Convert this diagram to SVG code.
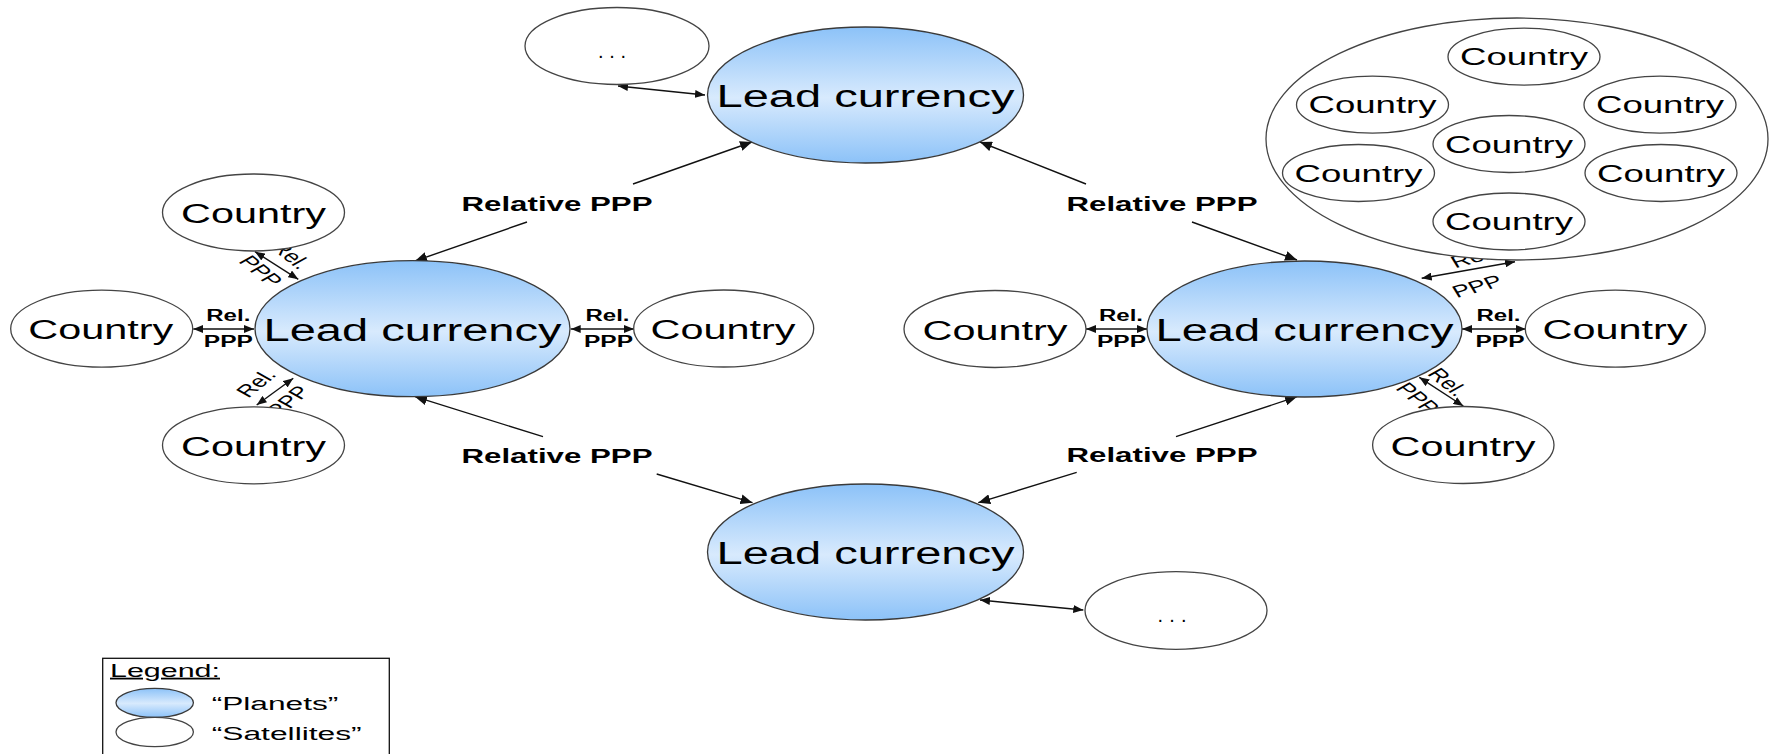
<svg xmlns="http://www.w3.org/2000/svg" width="1771" height="754" viewBox="0 0 1771 754">
<defs>
<linearGradient id="planet" x1="0" y1="0" x2="0" y2="1">
<stop offset="0" stop-color="#8cc2f8"/>
<stop offset="0.52" stop-color="#d8eafd"/>
<stop offset="1" stop-color="#8cc2f8"/>
</linearGradient>
<marker id="ah" viewBox="0 0 12 10" refX="12" refY="5" markerWidth="12" markerHeight="10" markerUnits="userSpaceOnUse" orient="auto-start-reverse"><path d="M0,0 L12,5 L0,10 z" fill="#111"/></marker>
<marker id="as" viewBox="0 0 10 8" refX="10" refY="4" markerWidth="10" markerHeight="8" markerUnits="userSpaceOnUse" orient="auto-start-reverse"><path d="M0,0 L10,4 L0,8 z" fill="#111"/></marker>
</defs>
<style>
.planet{fill:url(#planet);stroke:#3a3a3a;stroke-width:1.3}
.sat{fill:#fff;stroke:#444;stroke-width:1.3}
.t{font-family:"Liberation Sans",Arial,sans-serif;fill:#000}
.lead{font-size:31px;text-anchor:middle}
.cty{font-size:27px;text-anchor:middle}
.cty2{font-size:23px;text-anchor:middle}
.dots{font-size:20px;text-anchor:middle}
.rp{font-size:19.5px;font-weight:bold;text-anchor:middle}
.sm{font-size:16px;font-weight:bold;text-anchor:middle}
.rot{font-size:17px;text-anchor:middle}
.conn{fill:none;stroke:#111;stroke-width:1.4}
.big{marker-start:url(#ah);marker-end:url(#ah)}
.small{marker-start:url(#as);marker-end:url(#as)}
.leg{font-size:18px}
</style>
<rect width="1771" height="754" fill="#fff"/>

<g id="connectors">
<path class="conn big" d="M415,261 L527,222 M633,184 L752,142"/>
<path class="conn big" d="M1297,260 L1192,222 M1086,184 L980,142"/>
<path class="conn big" d="M415,396.7 L543,436.7 M656.7,474 L752.5,502.7"/>
<path class="conn big" d="M1297,396.7 L1176,436.7 M1076.7,472.3 L978.3,502.7"/>
<path class="conn small" d="M618,86 L705,95"/>
<path class="conn small" d="M980,600 L1083.3,610"/>
<path class="conn small" d="M193.3,329 L254,329"/>
<path class="conn small" d="M570.7,329 L634,329"/>
<path class="conn small" d="M1086,329 L1147,329"/>
<path class="conn small" d="M1462,329 L1525.7,329"/>
<path class="conn small" d="M255,251.7 L298.3,279.3"/>
<path class="conn small" d="M293.3,378.3 L256.7,405"/>
<path class="conn small" d="M1419.3,377.3 L1463.3,406"/>
<path class="conn small" d="M1421.7,278.3 L1515,261.7"/>
<text class="t rp" x="557" y="210.7" textLength="191" lengthAdjust="spacingAndGlyphs">Relative PPP</text>
<text class="t rp" x="557" y="463.3" textLength="191" lengthAdjust="spacingAndGlyphs">Relative PPP</text>
<text class="t rp" x="1162" y="210.7" textLength="191" lengthAdjust="spacingAndGlyphs">Relative PPP</text>
<text class="t rp" x="1162" y="461.5" textLength="191" lengthAdjust="spacingAndGlyphs">Relative PPP</text>
<text class="t sm" x="228.3" y="321" textLength="44" lengthAdjust="spacingAndGlyphs">Rel.</text>
<text class="t sm" x="228.3" y="346.5" textLength="49" lengthAdjust="spacingAndGlyphs">PPP</text>
<text class="t sm" x="607.5" y="321" textLength="44" lengthAdjust="spacingAndGlyphs">Rel.</text>
<text class="t sm" x="608.5" y="346.5" textLength="49" lengthAdjust="spacingAndGlyphs">PPP</text>
<text class="t sm" x="1121" y="321" textLength="44" lengthAdjust="spacingAndGlyphs">Rel.</text>
<text class="t sm" x="1121.5" y="346.5" textLength="49" lengthAdjust="spacingAndGlyphs">PPP</text>
<text class="t sm" x="1498.5" y="321" textLength="44" lengthAdjust="spacingAndGlyphs">Rel.</text>
<text class="t sm" x="1500" y="346.5" textLength="49" lengthAdjust="spacingAndGlyphs">PPP</text>
<text class="t rot" transform="translate(291,255) scale(1.5,1) rotate(50)" dy="0.35em">Rel.</text>
<text class="t rot" transform="translate(261,271) scale(1.5,1) rotate(50)" dy="0.35em">PPP</text>
<text class="t rot" transform="translate(256,383) scale(1.5,1) rotate(-50)" dy="0.35em">Rel.</text>
<text class="t rot" transform="translate(288,401) scale(1.5,1) rotate(-50)" dy="0.35em">PPP</text>
<text class="t rot" transform="translate(1448,382) scale(1.5,1) rotate(50)" dy="0.35em">Rel.</text>
<text class="t rot" transform="translate(1418,398) scale(1.5,1) rotate(50)" dy="0.35em">PPP</text>
<text class="t rot" transform="translate(1473,257) scale(1.5,1) rotate(-22)" dy="0.35em">Rel.</text>
<text class="t rot" transform="translate(1477,286) scale(1.5,1) rotate(-22)" dy="0.35em">PPP</text>
</g>

<g id="lead-top"><ellipse class="planet" cx="865.5" cy="95" rx="158" ry="68"/><text class="t lead" x="865.5" y="107" textLength="298" lengthAdjust="spacingAndGlyphs">Lead currency</text></g>
<g id="lead-left"><ellipse class="planet" cx="412.5" cy="328.7" rx="157.5" ry="68"/><text class="t lead" x="412.5" y="340.7" textLength="298" lengthAdjust="spacingAndGlyphs">Lead currency</text></g>
<g id="lead-right"><ellipse class="planet" cx="1304.5" cy="329" rx="157.5" ry="68"/><text class="t lead" x="1304.5" y="341" textLength="298" lengthAdjust="spacingAndGlyphs">Lead currency</text></g>
<g id="lead-bottom"><ellipse class="planet" cx="865.5" cy="552" rx="158" ry="68"/><text class="t lead" x="865.5" y="564" textLength="298" lengthAdjust="spacingAndGlyphs">Lead currency</text></g>

<g id="sat-top-dots"><ellipse class="sat" cx="617" cy="46" rx="92" ry="38.5"/><text class="t dots" x="612" y="58" textLength="28" lengthAdjust="spacing">...</text></g>
<g id="sat-bottom-dots"><ellipse class="sat" cx="1176" cy="610.5" rx="91" ry="38.8"/><text class="t dots" x="1172" y="621.7" textLength="29" lengthAdjust="spacing">...</text></g>

<g id="country-l-top"><ellipse class="sat" cx="253.5" cy="212.5" rx="91" ry="38.5"/><text class="t cty" x="253.5" y="223.3" textLength="145" lengthAdjust="spacingAndGlyphs">Country</text></g>
<g id="country-l-left"><ellipse class="sat" cx="101.7" cy="328.7" rx="91" ry="38.5"/><text class="t cty" x="100.8" y="339.3" textLength="145" lengthAdjust="spacingAndGlyphs">Country</text></g>
<g id="country-l-right"><ellipse class="sat" cx="723.7" cy="328.5" rx="90" ry="38.5"/><text class="t cty" x="723" y="339.3" textLength="145" lengthAdjust="spacingAndGlyphs">Country</text></g>
<g id="country-l-bottom"><ellipse class="sat" cx="253.5" cy="445.3" rx="91" ry="38.5"/><text class="t cty" x="253.5" y="456" textLength="145" lengthAdjust="spacingAndGlyphs">Country</text></g>

<g id="country-r-left"><ellipse class="sat" cx="995" cy="329" rx="91" ry="38.5"/><text class="t cty" x="995" y="339.6" textLength="145" lengthAdjust="spacingAndGlyphs">Country</text></g>
<g id="country-r-right"><ellipse class="sat" cx="1615.3" cy="328.7" rx="90" ry="38.5"/><text class="t cty" x="1615" y="339.3" textLength="145" lengthAdjust="spacingAndGlyphs">Country</text></g>
<g id="country-r-bottom"><ellipse class="sat" cx="1463.3" cy="445" rx="90.7" ry="38.5"/><text class="t cty" x="1463" y="455.7" textLength="145" lengthAdjust="spacingAndGlyphs">Country</text></g>

<g id="cluster">
<ellipse class="sat" cx="1517" cy="139" rx="251" ry="121"/>
<g id="cluster-1"><ellipse class="sat" cx="1524" cy="56.7" rx="76" ry="28.5"/><text class="t cty2" x="1524" y="65.2" textLength="128" lengthAdjust="spacingAndGlyphs">Country</text></g>
<g id="cluster-2"><ellipse class="sat" cx="1372.5" cy="104.7" rx="76" ry="28.5"/><text class="t cty2" x="1372.5" y="113.2" textLength="128" lengthAdjust="spacingAndGlyphs">Country</text></g>
<g id="cluster-3"><ellipse class="sat" cx="1660" cy="104.7" rx="76" ry="28.5"/><text class="t cty2" x="1660" y="113.2" textLength="128" lengthAdjust="spacingAndGlyphs">Country</text></g>
<g id="cluster-4"><ellipse class="sat" cx="1509" cy="144" rx="76" ry="28.5"/><text class="t cty2" x="1509" y="152.5" textLength="128" lengthAdjust="spacingAndGlyphs">Country</text></g>
<g id="cluster-5"><ellipse class="sat" cx="1358.5" cy="173" rx="76" ry="28.5"/><text class="t cty2" x="1358.5" y="181.5" textLength="128" lengthAdjust="spacingAndGlyphs">Country</text></g>
<g id="cluster-6"><ellipse class="sat" cx="1661" cy="173" rx="76" ry="28.5"/><text class="t cty2" x="1661" y="181.5" textLength="128" lengthAdjust="spacingAndGlyphs">Country</text></g>
<g id="cluster-7"><ellipse class="sat" cx="1509" cy="221.5" rx="76" ry="28.5"/><text class="t cty2" x="1509" y="230" textLength="128" lengthAdjust="spacingAndGlyphs">Country</text></g>
</g>

<g id="legend">
<rect x="102.7" y="658.3" width="286.6" height="120" fill="#fff" stroke="#111" stroke-width="1.3"/>
<text class="t leg" x="110" y="676.7" textLength="110" lengthAdjust="spacingAndGlyphs" text-decoration="underline">Legend:</text>
<ellipse class="planet" cx="154.7" cy="702.8" rx="38.7" ry="14.5"/>
<ellipse class="sat" cx="154.7" cy="732" rx="38.7" ry="14.7"/>
<text class="t leg" x="211.7" y="710" textLength="126.7" lengthAdjust="spacingAndGlyphs">“Planets”</text>
<text class="t leg" x="211.7" y="740" textLength="150" lengthAdjust="spacingAndGlyphs">“Satellites”</text>
</g>
</svg>
